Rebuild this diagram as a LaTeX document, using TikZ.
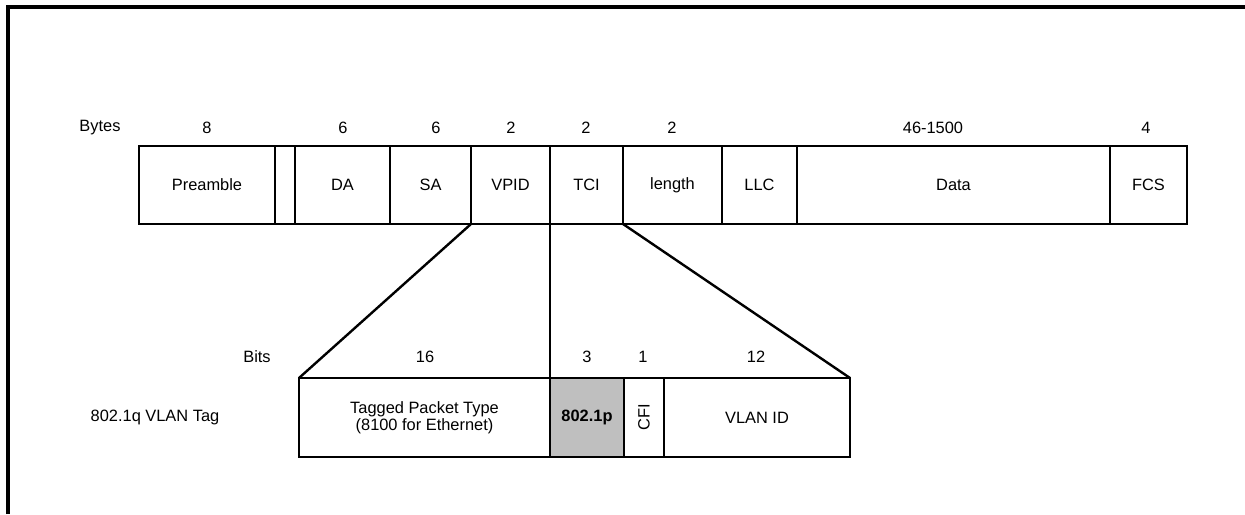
\documentclass[tikz,border=0pt]{standalone}
\usepackage{fontspec}
\setmainfont{Liberation Sans}
\usepackage{graphicx}
\usetikzlibrary{positioning}

\begin{document}
\begin{tikzpicture}[x=0.5pt,y=-0.5pt]

\tikzstyle{field}=[draw,line width=1.2pt,outer sep=0pt,inner sep=0pt,minimum height=39pt,font=\fontsize{8.2}{8.6}\selectfont,align=center]
\tikzstyle{size}=[inner sep=0pt,font=\fontsize{8.2}{8.6}\selectfont]
\tikzstyle{zoomline}=[line width=1.2pt]

\useasboundingbox (0,0) rectangle (1245,514);

%frame, only top and left edge visible
\draw[line width=1.6pt] (8,514) -- (8,7) -- (1245,7);

%ethernet frame
\node (pre) [field,anchor=north west,minimum width=68pt] at (139,146) {Preamble};
\node (sfd) [field,right=0pt of pre,minimum width=10pt] {};
\node (da) [field,right=0pt of sfd,minimum width=47.5pt] {DA};
\node (sa) [field,right=0pt of da,minimum width=40.5pt] {SA};
\node (vpid) [field,right=0pt of sa,minimum width=39.5pt] {VPID};
\node (tci) [field,right=0pt of vpid,minimum width=36.5pt] {TCI};
\node (len) [field,right=0pt of tci,minimum width=49.5pt] {length};
\node (llc) [field,right=0pt of len,minimum width=37.5pt] {LLC};
\node (data) [field,right=0pt of llc,minimum width=156.5pt] {Data};
\node (fcs) [field,right=0pt of data,minimum width=38.5pt] {FCS};

%byte counts
\foreach \x/\n in {100/Bytes,207/8,343/6,436/6,511/2,586/2,672/2,933/46-1500,1146/4}
  \node (byte\x) [size] at (\x,128) {\n};

%vlan tag
\node (tpt) [field,anchor=north west,minimum width=125.5pt,minimum height=39.5pt] at (299,378) {Tagged Packet Type\\(8100 for Ethernet)};
\node (pcp) [field,right=0pt of tpt,minimum width=37pt,minimum height=39.5pt,fill=black!25] {\bfseries 802.1p};
\node (cfi) [field,right=0pt of pcp,minimum width=20pt,minimum height=39.5pt] {\rotatebox{90}{CFI}};
\node (vid) [field,right=0pt of cfi,minimum width=93pt,minimum height=39.5pt] {VLAN ID};

%bit counts
\foreach \x/\n in {257/Bits,425/16,587/3,643/1,756/12}
  \node (bit\x) [size] at (\x,357) {\n};

\node (tag) [size] at (155,417) {802.1q VLAN Tag};

%zoom lines
\draw [zoomline] (vpid.south west) -- (tpt.north west);
\draw [zoomline] (tci.south west) -- (tpt.north east);
\draw [zoomline] (len.south west) -- (vid.north east);

\end{tikzpicture}
\end{document}
